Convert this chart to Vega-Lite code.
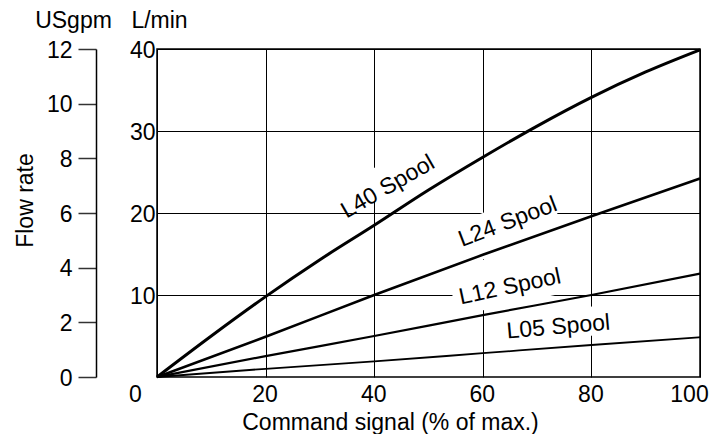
{
  "$schema": "https://vega.github.io/schema/vega-lite/v6.json",
  "width": 543,
  "height": 328,
  "autosize": {"type": "none"},
  "padding": {"left": 157, "top": 49, "right": 10, "bottom": 57},
  "background": "white",
  "config": {
    "font": "Liberation Sans",
    "view": {"stroke": "black", "strokeWidth": 1.5},
    "axis": {
      "labelFont": "Liberation Sans",
      "titleFont": "Liberation Sans",
      "labelFontSize": 23,
      "titleFontSize": 23,
      "labelColor": "black",
      "titleColor": "black",
      "titleFontWeight": "normal"
    },
    "text": {"font": "Liberation Sans", "fontSize": 23, "color": "black", "align": "center", "baseline": "middle"}
  },
  "datasets": {
    "curves": [
      {"spool": "L40", "signal": 0, "flow": 0},
      {"spool": "L40", "signal": 10, "flow": 5.0},
      {"spool": "L40", "signal": 20, "flow": 9.8},
      {"spool": "L40", "signal": 30, "flow": 14.3},
      {"spool": "L40", "signal": 40, "flow": 18.5},
      {"spool": "L40", "signal": 50, "flow": 22.8},
      {"spool": "L40", "signal": 60, "flow": 26.8},
      {"spool": "L40", "signal": 70, "flow": 30.6},
      {"spool": "L40", "signal": 80, "flow": 34.1},
      {"spool": "L40", "signal": 90, "flow": 37.2},
      {"spool": "L40", "signal": 100, "flow": 39.9},
      {"spool": "L24", "signal": 0, "flow": 0},
      {"spool": "L24", "signal": 20, "flow": 4.9},
      {"spool": "L24", "signal": 40, "flow": 10.0},
      {"spool": "L24", "signal": 60, "flow": 14.9},
      {"spool": "L24", "signal": 80, "flow": 19.6},
      {"spool": "L24", "signal": 100, "flow": 24.2},
      {"spool": "L12", "signal": 0, "flow": 0},
      {"spool": "L12", "signal": 20, "flow": 2.55},
      {"spool": "L12", "signal": 40, "flow": 5.0},
      {"spool": "L12", "signal": 60, "flow": 7.55},
      {"spool": "L12", "signal": 80, "flow": 10.0},
      {"spool": "L12", "signal": 100, "flow": 12.6},
      {"spool": "L05", "signal": 0, "flow": 0},
      {"spool": "L05", "signal": 20, "flow": 1.0},
      {"spool": "L05", "signal": 40, "flow": 1.9},
      {"spool": "L05", "signal": 60, "flow": 2.9},
      {"spool": "L05", "signal": 80, "flow": 3.9},
      {"spool": "L05", "signal": 100, "flow": 4.85}
    ],
    "labels": [
      {"label": "L40 Spool", "signal": 42.5, "flow": 23.2},
      {"label": "L24 Spool", "signal": 64.6, "flow": 18.9},
      {"label": "L12 Spool", "signal": 65.0, "flow": 11.0},
      {"label": "L05 Spool", "signal": 73.9, "flow": 6.1}
    ]
  },
  "encoding": {
    "x": {
      "field": "signal",
      "type": "quantitative",
      "scale": {"domain": [0, 100], "nice": false},
      "axis": {
        "title": "Command signal (% of max.)",
        "values": [0, 20, 40, 60, 80, 100],
        "grid": true,
        "gridColor": "black",
        "gridWidth": 1,
        "gridOpacity": 1,
        "domain": false,
        "ticks": false,
        "tickSize": 0,
        "labelPadding": 6,
        "labelFlush": false,
        "labelOverlap": false,
        "labelOffset": {
          "condition": [
            {"test": "datum.value === 0", "value": -22},
            {"test": "datum.value === 100", "value": -11}
          ],
          "value": -1
        },
        "titleX": 233,
        "titleY": 52,
        "titleAlign": "center",
        "titleBaseline": "alphabetic"
      }
    }
  },
  "layer": [
    {
      "encoding": {
        "y": {
          "field": "flow",
          "type": "quantitative",
          "scale": {"domain": [0, 40], "nice": false},
          "axis": {
            "title": "L/min",
            "orient": "left",
            "values": [10, 20, 30, 40],
            "grid": true,
            "gridColor": "black",
            "gridWidth": 1,
            "gridOpacity": 1,
            "domain": false,
            "ticks": false,
            "tickSize": 0,
            "labelPadding": 2,
            "labelBaseline": "middle",
            "labelOffset": 1,
            "titleAngle": 0,
            "titleX": 2,
            "titleY": -22,
            "titleAlign": "center",
            "titleBaseline": "alphabetic"
          }
        }
      },
      "layer": [
        {
          "data": {"name": "labels"},
          "transform": [{"filter": "datum.label === 'L40 Spool'"}],
          "mark": {"type": "point", "shape": "M-0.75,-0.4L1,-0.4L1,0.1L-0.75,0.1Z", "filled": true, "color": "white", "opacity": 1, "strokeWidth": 0, "size": 13456, "angle": -30}
        },
        {
          "data": {"name": "labels"},
          "transform": [{"filter": "datum.label === 'L24 Spool'"}],
          "mark": {"type": "point", "shape": "M-1,-0.3L0.85,-0.3L0.85,0.45L-1,0.45Z", "filled": true, "color": "white", "opacity": 1, "strokeWidth": 0, "size": 13456, "angle": -21}
        },
        {
          "data": {"name": "labels"},
          "transform": [{"filter": "datum.label === 'L12 Spool'"}],
          "mark": {"type": "point", "shape": "M-1,-0.55L1,-0.55L1,0.3L-1,0.3Z", "filled": true, "color": "white", "opacity": 1, "strokeWidth": 0, "size": 13456, "angle": -12}
        },
        {
          "data": {"name": "labels"},
          "transform": [{"filter": "datum.label === 'L05 Spool'"}],
          "mark": {"type": "point", "shape": "M-1,-0.3L1,-0.3L1,0.2L-1,0.2Z", "filled": true, "color": "white", "opacity": 1, "strokeWidth": 0, "size": 13456, "angle": -5}
        },
        {
          "data": {"name": "curves"},
          "mark": {"type": "line", "color": "black", "interpolate": "monotone"},
          "encoding": {
            "detail": {"field": "spool", "type": "nominal"},
            "strokeWidth": {
              "field": "spool",
              "type": "nominal",
              "scale": {"domain": ["L40", "L24", "L12", "L05"], "range": [3, 1.8, 1.8, 1.8]},
              "legend": null
            }
          }
        },
        {
          "data": {"name": "labels"},
          "transform": [{"filter": "datum.label === 'L40 Spool'"}],
          "mark": {"type": "text", "angle": -30},
          "encoding": {"text": {"field": "label"}}
        },
        {
          "data": {"name": "labels"},
          "transform": [{"filter": "datum.label === 'L24 Spool'"}],
          "mark": {"type": "text", "angle": -21},
          "encoding": {"text": {"field": "label"}}
        },
        {
          "data": {"name": "labels"},
          "transform": [{"filter": "datum.label === 'L12 Spool'"}],
          "mark": {"type": "text", "angle": -12},
          "encoding": {"text": {"field": "label"}}
        },
        {
          "data": {"name": "labels"},
          "transform": [{"filter": "datum.label === 'L05 Spool'"}],
          "mark": {"type": "text", "angle": -5},
          "encoding": {"text": {"field": "label"}}
        }
      ]
    },
    {
      "data": {"name": "curves"},
      "mark": {"type": "tick", "opacity": 0, "clip": true},
      "encoding": {
        "y": {
          "field": "flow",
          "type": "quantitative",
          "scale": {"domain": [0, 12], "nice": false},
          "axis": {
            "title": "USgpm",
            "orient": "left",
            "offset": 61,
            "values": [0, 2, 4, 6, 8, 10, 12],
            "grid": false,
            "domain": true,
            "domainColor": "black",
            "domainWidth": 1.5,
            "ticks": true,
            "tickSize": 18,
            "tickColor": "#333333",
            "tickWidth": 1.5,
            "labelPadding": 6,
            "labelBaseline": "middle",
            "labelOffset": 1,
            "titleAngle": 0,
            "titleX": -23,
            "titleY": -22,
            "titleAlign": "center",
            "titleBaseline": "alphabetic"
          }
        }
      }
    },
    {
      "data": {"name": "curves"},
      "mark": {"type": "tick", "opacity": 0, "clip": true},
      "encoding": {
        "y": {
          "field": "flow",
          "type": "quantitative",
          "scale": {"domain": [0, 12], "nice": false},
          "axis": {
            "title": "Flow rate",
            "orient": "left",
            "offset": 0,
            "grid": false,
            "domain": false,
            "ticks": false,
            "labels": false,
            "titleAngle": -90,
            "titleX": -125,
            "titleY": 151,
            "titleAlign": "center",
            "titleBaseline": "alphabetic"
          }
        }
      }
    }
  ],
  "resolve": {"scale": {"y": "independent"}, "axis": {"y": "independent"}}
}
